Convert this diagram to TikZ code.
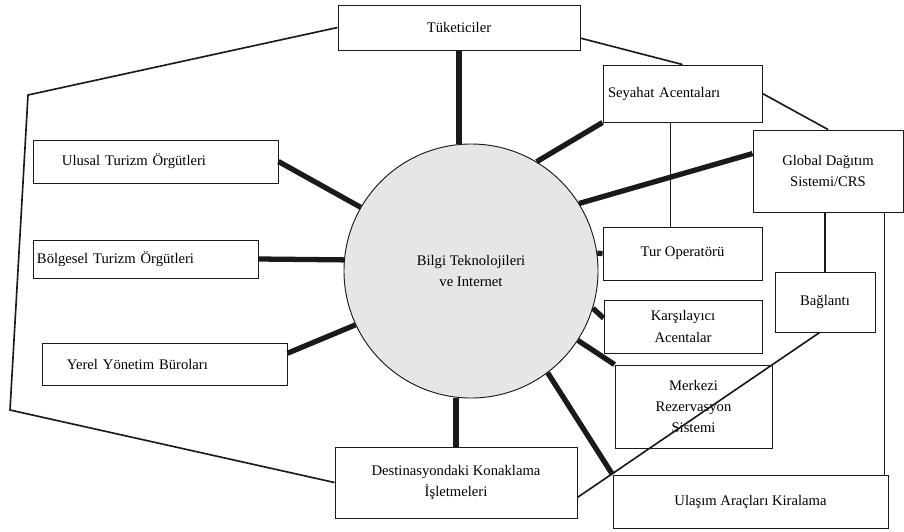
\documentclass[tikz,border=0pt]{standalone}
\usepackage{fontspec}
\setmainfont{Liberation Serif}
\usepackage{tikz}
\usetikzlibrary{positioning}
\definecolor{ink}{HTML}{1A1A1A}
\definecolor{stipple}{HTML}{E6E6E6}
\tikzset{
  kutu/.style={rectangle, draw=ink, fill=white, line width=0.8pt, align=center,
               inner sep=2pt, font=\fontsize{12.5}{18}\selectfont},
  solkutu/.style={kutu, align=left},
  merkez/.style={circle, draw=ink, fill=stipple, line width=0.8pt, align=center,
                 minimum size=7.62cm, font=\fontsize{12.5}{18}\selectfont},
  spoke/.style={draw=ink, line width=4.5pt},
  link/.style={draw=ink, line width=1.4pt}
}

\begin{document}
\begin{tikzpicture}[x=0.03cm, y=-0.03cm]
  \useasboundingbox (0,0) rectangle (904,531);

  % merkez
  \node[merkez] (bt) at (471,271) {Bilgi Teknolojileri\\ve Internet};

  % sol taraf
  \node[solkutu, minimum height=1.29cm, text width=5.61cm, inner xsep=0.87cm] (ulu) at (155.5,161.5) {Ulusal Turizm Örgütleri};
  \node[solkutu, minimum height=1.14cm, text width=6.51cm, inner xsep=0.12cm] (blg) at (145.5,259) {Bölgesel Turizm Örgütleri};
  \node[solkutu, minimum height=1.26cm, text width=5.85cm, inner xsep=0.75cm] (yrl) at (164.5,364) {Yerel Yönetim Büroları};

  % ust ve alt
  \node[kutu, minimum width=7.26cm, minimum height=1.35cm] (tuk) at (459,27.5) {Tüketiciler};
  \node[kutu, minimum width=7.26cm, minimum height=2.13cm] (dst) at (456,482.5) {Destinasyondaki Konaklama\\İşletmeleri};

  % sag taraf
  \node[solkutu, minimum height=1.71cm, text width=4.47cm, inner xsep=0.15cm] (sey) at (682.5,93.5) {Seyahat Acentaları};
  \node[kutu, minimum width=4.5cm, minimum height=2.46cm] (glb) at (828,171) {Global Dağıtım\\Sistemi/CRS};
  \node[kutu, minimum width=4.77cm, minimum height=1.59cm] (tur) at (682.5,253.5) {Tur Operatörü};
  \node[kutu, minimum width=4.74cm, minimum height=1.59cm] (kar) at (683,326.5) {Karşılayıcı\\Acentalar};
  \node[kutu, minimum width=4.71cm, minimum height=2.49cm] (mrk) at (693.5,406.5) {Merkezi\\Rezervasyon\\Sistemi};
  \node[kutu, minimum width=3cm, minimum height=1.8cm] (bag) at (825,302) {Bağlantı};
  \node[kutu, minimum width=8.25cm, minimum height=1.59cm] (ula) at (750.5,501.5) {Ulaşım Araçları Kiralama};

  % kalin baglantilar
  \draw[spoke] (tuk) -- (tuk |- bt.north);
  \draw[spoke] (ulu.east) -- (bt.150);
  \draw[spoke] (blg.east) -- (bt.175);
  \draw[spoke] (yrl.5) -- (bt.205);
  \draw[spoke] (dst) -- (dst |- bt.south);
  \draw[spoke] (bt.59) -- (sey.south west);
  \draw[spoke] (bt.32) -- (glb.167);
  \draw[spoke] (bt.8) -- (tur.west);
  \draw[spoke] (bt.-17) -- (kar.174);
  \draw[spoke] (bt.-33) -- (mrk.north west);
  \draw[spoke] (bt.-53) -- (ula.north west);

  % ince baglantilar
  \coordinate (kose1) at (28,95);
  \coordinate (kose2) at (10,410);
  \draw[link] (tuk.west) -- (kose1) -- (kose2) -- (dst.west);
  \draw[link] (tuk.-5) -- (sey.north);
  \draw[link] (sey.east) -- (glb.north);
  \draw[link] ([xshift=-0.36cm]tur.north) -- ([xshift=-0.36cm]tur.north |- sey.south);
  \draw[link] (bag) -- (bag |- glb.south);
  \draw[link] ([xshift=-0.12cm]ula.north east) -- ([xshift=-0.12cm]ula.north east |- glb.south);
  \draw[link] (bag.-100) -- (dst.-7);
\end{tikzpicture}
\end{document}
